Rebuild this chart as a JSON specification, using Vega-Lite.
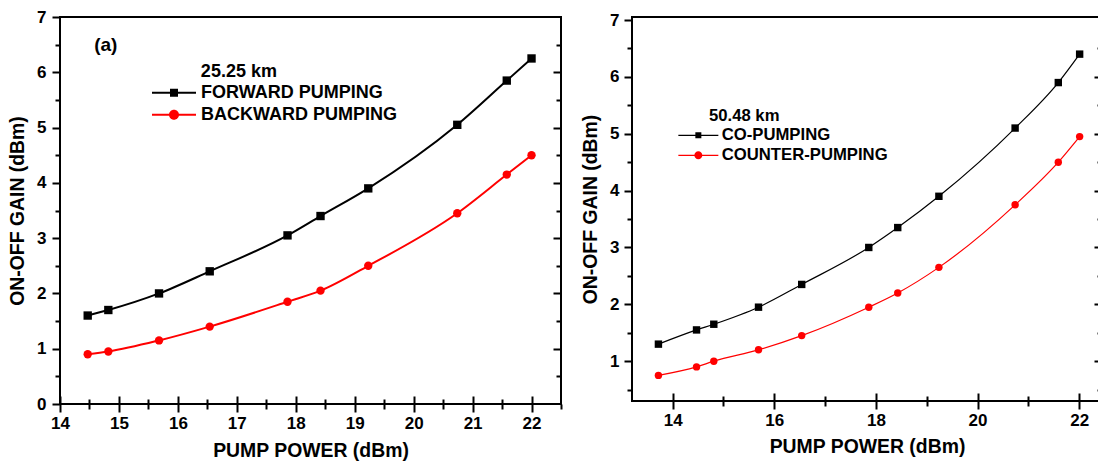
{
  "$schema": "https://vega.github.io/schema/vega-lite/v6.json",
  "background": "white",
  "padding": {"left": 6, "top": 7, "right": 0, "bottom": 0},
  "spacing": 16,
  "datasets": {
    "km25": [
      {"power": 14.47, "gain": 1.60, "series": "FORWARD PUMPING"},
      {"power": 14.82, "gain": 1.70, "series": "FORWARD PUMPING"},
      {"power": 15.68, "gain": 2.00, "series": "FORWARD PUMPING"},
      {"power": 16.54, "gain": 2.40, "series": "FORWARD PUMPING"},
      {"power": 17.86, "gain": 3.05, "series": "FORWARD PUMPING"},
      {"power": 18.42, "gain": 3.40, "series": "FORWARD PUMPING"},
      {"power": 19.23, "gain": 3.90, "series": "FORWARD PUMPING"},
      {"power": 20.74, "gain": 5.05, "series": "FORWARD PUMPING"},
      {"power": 21.58, "gain": 5.85, "series": "FORWARD PUMPING"},
      {"power": 22.00, "gain": 6.25, "series": "FORWARD PUMPING"},
      {"power": 14.47, "gain": 0.90, "series": "BACKWARD PUMPING"},
      {"power": 14.82, "gain": 0.95, "series": "BACKWARD PUMPING"},
      {"power": 15.68, "gain": 1.15, "series": "BACKWARD PUMPING"},
      {"power": 16.54, "gain": 1.40, "series": "BACKWARD PUMPING"},
      {"power": 17.86, "gain": 1.85, "series": "BACKWARD PUMPING"},
      {"power": 18.42, "gain": 2.05, "series": "BACKWARD PUMPING"},
      {"power": 19.23, "gain": 2.50, "series": "BACKWARD PUMPING"},
      {"power": 20.74, "gain": 3.45, "series": "BACKWARD PUMPING"},
      {"power": 21.58, "gain": 4.15, "series": "BACKWARD PUMPING"},
      {"power": 22.00, "gain": 4.50, "series": "BACKWARD PUMPING"}
    ],
    "km50": [
      {"power": 13.72, "gain": 1.30, "series": "CO-PUMPING"},
      {"power": 14.47, "gain": 1.55, "series": "CO-PUMPING"},
      {"power": 14.81, "gain": 1.65, "series": "CO-PUMPING"},
      {"power": 15.69, "gain": 1.95, "series": "CO-PUMPING"},
      {"power": 16.54, "gain": 2.35, "series": "CO-PUMPING"},
      {"power": 17.86, "gain": 3.00, "series": "CO-PUMPING"},
      {"power": 18.43, "gain": 3.35, "series": "CO-PUMPING"},
      {"power": 19.24, "gain": 3.90, "series": "CO-PUMPING"},
      {"power": 20.74, "gain": 5.10, "series": "CO-PUMPING"},
      {"power": 21.59, "gain": 5.90, "series": "CO-PUMPING"},
      {"power": 22.01, "gain": 6.40, "series": "CO-PUMPING"},
      {"power": 13.72, "gain": 0.75, "series": "COUNTER-PUMPING"},
      {"power": 14.47, "gain": 0.90, "series": "COUNTER-PUMPING"},
      {"power": 14.81, "gain": 1.00, "series": "COUNTER-PUMPING"},
      {"power": 15.69, "gain": 1.20, "series": "COUNTER-PUMPING"},
      {"power": 16.54, "gain": 1.45, "series": "COUNTER-PUMPING"},
      {"power": 17.86, "gain": 1.95, "series": "COUNTER-PUMPING"},
      {"power": 18.43, "gain": 2.20, "series": "COUNTER-PUMPING"},
      {"power": 19.24, "gain": 2.65, "series": "COUNTER-PUMPING"},
      {"power": 20.74, "gain": 3.75, "series": "COUNTER-PUMPING"},
      {"power": 21.59, "gain": 4.50, "series": "COUNTER-PUMPING"},
      {"power": 22.01, "gain": 4.95, "series": "COUNTER-PUMPING"}
    ]
  },
  "resolve": {"scale": {"color": "independent", "shape": "independent", "size": "independent", "x": "independent", "y": "independent"}, "legend": {"color": "independent", "shape": "independent", "size": "independent"}},
  "hconcat": [
    {
      "width": 501,
      "height": 387,
      "data": {"name": "km25"},
      "resolve": {"axis": {"x": "independent", "y": "independent"}, "scale": {"size": "independent"}, "legend": {"size": "independent"}},
      "layer": [
        {
          "mark": {"type": "point", "filled": true, "opacity": 1},
          "encoding": {
            "x": {"field": "power", "type": "quantitative",
              "scale": {"domain": [14, 22.5], "nice": false, "zero": false},
              "axis": {"orient": "bottom", "title": null, "labels": false, "ticks": true, "tickColor": "black", "tickWidth": 2,
                "values": [14.5, 15.5, 16.5, 17.5, 18.5, 19.5, 20.5, 21.5, 22.5], "tickSize": 5}},
            "y": {"field": "gain", "type": "quantitative",
              "scale": {"domain": [0, 7], "nice": false, "zero": false},
              "axis": {"orient": "left", "title": null, "labels": false, "ticks": true, "tickColor": "black", "tickWidth": 2,
                "values": [0.5, 1.5, 2.5, 3.5, 4.5, 5.5, 6.5], "tickSize": 5}},
            "color": {"field": "series", "type": "nominal", "legend": null,
              "scale": {"domain": ["FORWARD PUMPING", "BACKWARD PUMPING"], "range": ["black", "#ff0000"]}},
            "shape": {"field": "series", "type": "nominal", "legend": null,
              "scale": {"domain": ["FORWARD PUMPING", "BACKWARD PUMPING"], "range": ["square", "circle"]}},
            "size": {"value": 70}
          }
        },
        {
          "mark": {"type": "line", "strokeWidth": 2, "interpolate": "monotone"},
          "encoding": {
            "x": {"field": "power", "type": "quantitative",
              "axis": {"orient": "bottom", "title": "PUMP POWER (dBm)", "format": "d", "ticks": true, "tickColor": "black", "tickWidth": 2,
                "values": [14, 15, 16, 17, 18, 19, 20, 21, 22],
                "tickSize": 8, "labelPadding": 3.5, "titlePadding": 9.5}},
            "y": {"field": "gain", "type": "quantitative",
              "axis": {"orient": "left", "title": "ON-OFF GAIN (dBm)\u00a0\u00a0\u00a0\u00a0\u00a0\u00a0", "format": "d", "ticks": true, "tickColor": "black", "tickWidth": 2,
                "values": [0, 1, 2, 3, 4, 5, 6, 7],
                "tickSize": 8, "labelPadding": 6, "titlePadding": 9}},
            "color": {"field": "series", "type": "nominal", "legend": null}
          }
        },
        {
          "mark": {"type": "point", "opacity": 0},
          "encoding": {
            "x": {"field": "power", "type": "quantitative",
              "axis": {"orient": "top", "title": null, "labels": false, "ticks": false, "domain": false,
                "grid": true, "gridColor": "black", "gridWidth": 2, "gridOpacity": 1, "gridDash": [8, 3000],
                "values": [14, 15, 16, 17, 18, 19, 20, 21, 22]}},
            "y": {"field": "gain", "type": "quantitative",
              "axis": {"orient": "right", "title": null, "labels": false, "ticks": false, "domain": false,
                "grid": true, "gridColor": "black", "gridWidth": 2, "gridOpacity": 1, "gridDash": [8, 3000],
                "values": [1, 2, 3, 4, 5, 6]}}
          }
        },
        {
          "mark": {"type": "point", "opacity": 0},
          "encoding": {
            "x": {"field": "power", "type": "quantitative",
              "axis": {"orient": "top", "title": null, "labels": false, "ticks": false, "domain": false,
                "grid": true, "gridColor": "black", "gridWidth": 2, "gridOpacity": 1, "gridDash": [5, 3000],
                "values": [14.5, 15.5, 16.5, 17.5, 18.5, 19.5, 20.5, 21.5]}},
            "y": {"field": "gain", "type": "quantitative",
              "axis": {"orient": "right", "title": null, "labels": false, "ticks": false, "domain": false,
                "grid": true, "gridColor": "black", "gridWidth": 2, "gridOpacity": 1, "gridDash": [5, 3000],
                "values": [0.5, 1.5, 2.5, 3.5, 4.5, 5.5, 6.5]}}
          }
        },
        {
          "data": {"values": [{}]},
          "mark": {"type": "text", "text": "(a)", "align": "left", "baseline": "middle", "font": "Liberation Sans", "fontWeight": "bold", "fontSize": 19, "color": "black"},
          "encoding": {
            "x": {"datum": 14.58, "type": "quantitative", "axis": null},
            "y": {"datum": 6.5, "type": "quantitative", "axis": null}
          }
        },
        {
          "data": {"values": [{}]},
          "mark": {"type": "text", "text": "25.25 km", "align": "left", "baseline": "middle", "font": "Liberation Sans", "fontWeight": "bold", "fontSize": 18, "color": "black"},
          "encoding": {
            "x": {"datum": 16.39, "type": "quantitative", "axis": null},
            "y": {"datum": 6.0, "type": "quantitative", "axis": null}
          }
        },
        {
          "transform": [{"filter": "datum.series === 'FORWARD PUMPING'"}],
          "mark": {"type": "point", "filled": true, "color": "black", "opacity": 0},
          "encoding": {
            "size": {"field": "series", "type": "ordinal", "scale": {"range": [100, 100]},
              "legend": {"orient": "none", "legendX": 88, "legendY": 66.7, "title": null,
                "symbolType": "M-1,-0.2H2.6V0.2H-1Z M2.6,-0.8H4.2V0.8H2.6Z M4.2,-0.2H7.8V0.2H4.2Z",
                "symbolOpacity": 1, "symbolStrokeWidth": 0, "symbolFillColor": "black",
                "labelFontSize": 18, "labelOffset": 35, "padding": 0}}
          }
        },
        {
          "transform": [{"filter": "datum.series === 'BACKWARD PUMPING'"}],
          "mark": {"type": "point", "filled": true, "color": "#ff0000", "opacity": 0},
          "encoding": {
            "size": {"field": "series", "type": "ordinal", "scale": {"range": [100, 100]},
              "legend": {"orient": "none", "legendX": 88, "legendY": 88.7, "title": null,
                "symbolType": "M-1,-0.2H2.45V0.2H-1Z M4.35,-0.2H7.8V0.2H4.35Z M4.4,0A1,1 0 1,1 2.4,0A1,1 0 1,1 4.4,0Z",
                "symbolOpacity": 1, "symbolStrokeWidth": 0, "symbolFillColor": "#ff0000",
                "labelFontSize": 18, "labelOffset": 35, "padding": 0}}
          }
        }
      ]
    },
    {
      "width": 470,
      "height": 384,
      "data": {"name": "km50"},
      "resolve": {"axis": {"x": "independent", "y": "independent"}, "scale": {"size": "independent"}, "legend": {"size": "independent"}},
      "layer": [
        {
          "mark": {"type": "point", "filled": true, "opacity": 1},
          "encoding": {
            "x": {"field": "power", "type": "quantitative",
              "scale": {"domain": [13.2, 22.45], "nice": false, "zero": false},
              "axis": {"orient": "bottom", "title": null, "labels": false, "ticks": true, "tickColor": "black", "tickWidth": 2,
                "values": [15, 17, 19, 21], "tickSize": 5}},
            "y": {"field": "gain", "type": "quantitative",
              "scale": {"domain": [0.3, 7.053], "nice": false, "zero": false},
              "axis": {"orient": "left", "title": null, "labels": false, "ticks": true, "tickColor": "black", "tickWidth": 2,
                "values": [0.5, 1.5, 2.5, 3.5, 4.5, 5.5, 6.5], "tickSize": 5}},
            "color": {"field": "series", "type": "nominal", "legend": null,
              "scale": {"domain": ["CO-PUMPING", "COUNTER-PUMPING"], "range": ["black", "#ff0000"]}},
            "shape": {"field": "series", "type": "nominal", "legend": null,
              "scale": {"domain": ["CO-PUMPING", "COUNTER-PUMPING"], "range": ["square", "circle"]}},
            "size": {"value": 55}
          }
        },
        {
          "mark": {"type": "line", "strokeWidth": 1.2, "interpolate": "monotone"},
          "encoding": {
            "x": {"field": "power", "type": "quantitative",
              "axis": {"orient": "bottom", "title": "PUMP POWER (dBm)", "format": "d", "ticks": true, "tickColor": "black", "tickWidth": 2,
                "values": [14, 16, 18, 20, 22],
                "tickSize": 8, "labelPadding": 3, "titlePadding": 9.5}},
            "y": {"field": "gain", "type": "quantitative",
              "axis": {"orient": "left", "title": "ON-OFF GAIN (dBm)\u00a0\u00a0\u00a0\u00a0\u00a0\u00a0", "format": "d", "ticks": true, "tickColor": "black", "tickWidth": 2,
                "values": [1, 2, 3, 4, 5, 6, 7],
                "tickSize": 8, "labelPadding": 5, "titlePadding": 9}},
            "color": {"field": "series", "type": "nominal", "legend": null}
          }
        },
        {
          "mark": {"type": "point", "opacity": 0},
          "encoding": {
            "x": {"field": "power", "type": "quantitative",
              "axis": {"orient": "top", "title": null, "labels": false, "ticks": false, "domain": false,
                "grid": true, "gridColor": "black", "gridWidth": 2, "gridOpacity": 1, "gridDash": [8, 3000],
                "values": [14, 16, 18, 20, 22]}},
            "y": {"field": "gain", "type": "quantitative",
              "axis": {"orient": "right", "title": null, "labels": false, "ticks": false, "domain": false,
                "grid": true, "gridColor": "black", "gridWidth": 2, "gridOpacity": 1, "gridDash": [8, 3000],
                "values": [1, 2, 3, 4, 5, 6]}}
          }
        },
        {
          "mark": {"type": "point", "opacity": 0},
          "encoding": {
            "x": {"field": "power", "type": "quantitative",
              "axis": {"orient": "top", "title": null, "labels": false, "ticks": false, "domain": false,
                "grid": true, "gridColor": "black", "gridWidth": 2, "gridOpacity": 1, "gridDash": [5, 3000],
                "values": [15, 17, 19, 21]}},
            "y": {"field": "gain", "type": "quantitative",
              "axis": {"orient": "right", "title": null, "labels": false, "ticks": false, "domain": false,
                "grid": true, "gridColor": "black", "gridWidth": 2, "gridOpacity": 1, "gridDash": [5, 3000],
                "values": [0.5, 1.5, 2.5, 3.5, 4.5, 5.5, 6.5]}}
          }
        },
        {
          "data": {"values": [{}]},
          "mark": {"type": "text", "text": "50.48 km", "align": "left", "baseline": "middle", "font": "Liberation Sans", "fontWeight": "bold", "fontSize": 16.7, "color": "black"},
          "encoding": {
            "x": {"datum": 14.715, "type": "quantitative", "axis": null},
            "y": {"datum": 5.312, "type": "quantitative", "axis": null}
          }
        },
        {
          "transform": [{"filter": "datum.series === 'CO-PUMPING'"}],
          "mark": {"type": "point", "filled": true, "color": "black", "opacity": 0},
          "encoding": {
            "size": {"field": "series", "type": "ordinal", "scale": {"range": [100, 100]},
              "legend": {"orient": "none", "legendX": 43, "legendY": 110, "title": null,
                "symbolType": "M-1,-0.12H2.4V0.12H-1Z M2.4,-0.6H3.6V0.6H2.4Z M3.6,-0.12H7V0.12H3.6Z",
                "symbolOpacity": 1, "symbolStrokeWidth": 0, "symbolFillColor": "black",
                "labelFontSize": 16.7, "labelOffset": 30, "padding": 0}}
          }
        },
        {
          "transform": [{"filter": "datum.series === 'COUNTER-PUMPING'"}],
          "mark": {"type": "point", "filled": true, "color": "#ff0000", "opacity": 0},
          "encoding": {
            "size": {"field": "series", "type": "ordinal", "scale": {"range": [100, 100]},
              "legend": {"orient": "none", "legendX": 43, "legendY": 130, "title": null,
                "symbolType": "M-1,-0.12H2.25V0.12H-1Z M3.75,-0.12H7V0.12H3.75Z M3.8,0A0.8,0.8 0 1,1 2.2,0A0.8,0.8 0 1,1 3.8,0Z",
                "symbolOpacity": 1, "symbolStrokeWidth": 0, "symbolFillColor": "#ff0000",
                "labelFontSize": 16.7, "labelOffset": 30, "padding": 0}}
          }
        }
      ]
    }
  ],
  "config": {
    "view": {"stroke": "black", "strokeWidth": 2},
    "font": "Liberation Sans",
    "axis": {
      "labelFont": "Liberation Sans", "labelFontWeight": "bold", "labelFontSize": 17, "labelColor": "black",
      "titleFont": "Liberation Sans", "titleFontWeight": "bold", "titleFontSize": 19.4, "titleColor": "black",
      "domain": false, "tickColor": "black", "tickWidth": 2,
      "grid": false, "labelFlush": false, "labelOverlap": false
    },
    "legend": {
      "titleFont": "Liberation Sans", "titleFontWeight": "bold", "titleColor": "black",
      "labelFont": "Liberation Sans", "labelFontWeight": "bold", "labelColor": "black",
      "labelLimit": 400
    }
  }
}
